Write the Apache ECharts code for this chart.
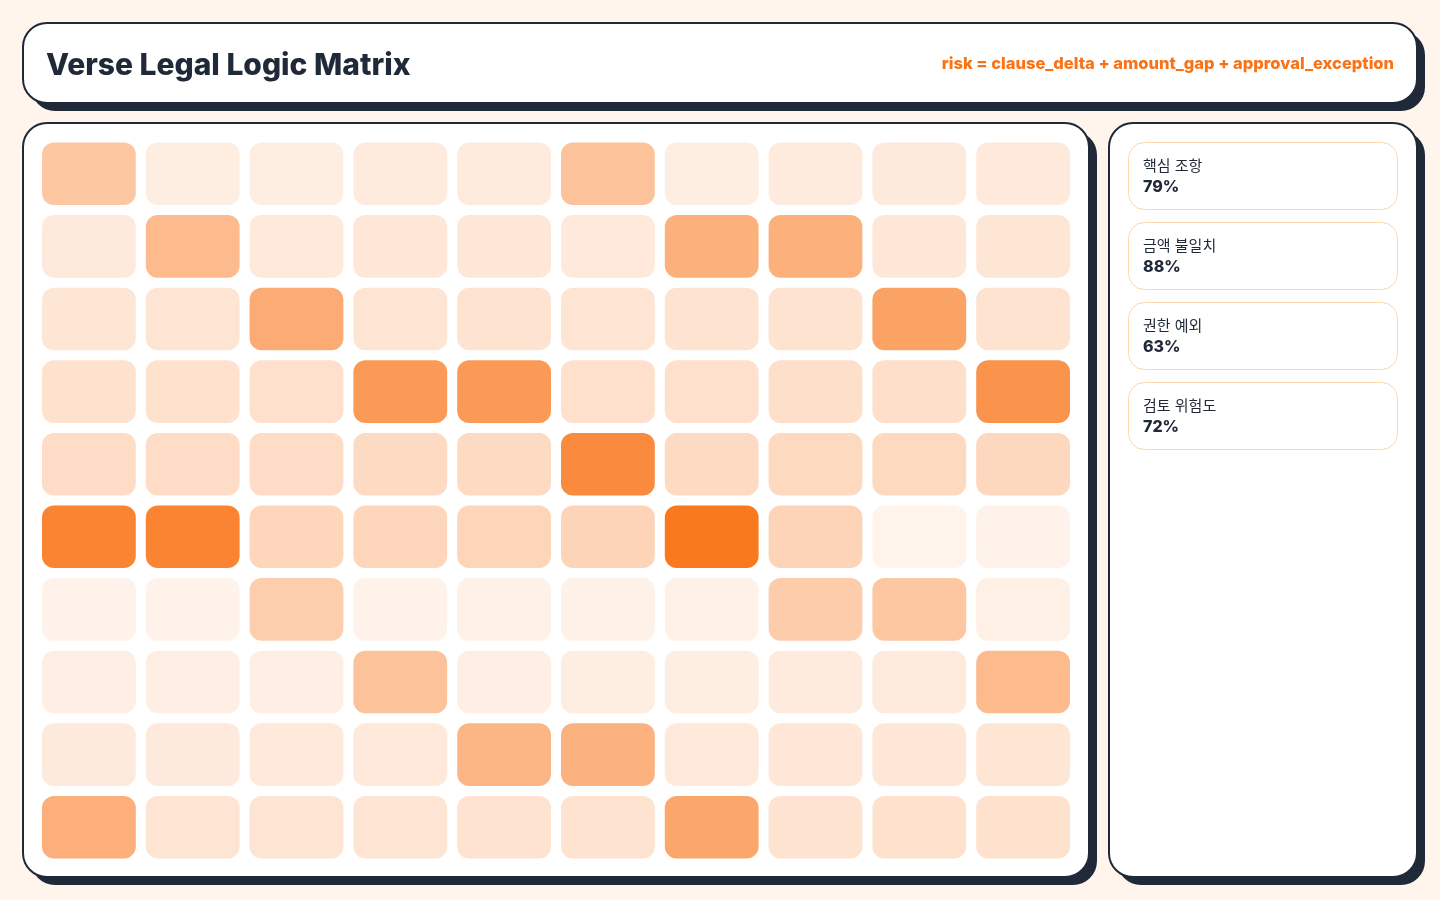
<!DOCTYPE html>
<html>
<head>
<meta charset="utf-8">
<title>Verse Legal Logic Matrix</title>
<script src="https://cdn.jsdelivr.net/npm/echarts@6/dist/echarts.min.js"></script>
<style>
    html, body { margin: 0; padding: 0; background: #fff5ec; }
    #chart { width: 1440px; height: 900px; }
</style>
</head>
<body>
<div id="chart"></div>
<script>
// 行列标签
var colKeys = ['c1', 'c2', 'c3', 'c4', 'c5', 'c6', 'c7', 'c8', 'c9', 'c10'];
var rowKeys = ['r1', 'r2', 'r3', 'r4', 'r5', 'r6', 'r7', 'r8', 'r9', 'r10'];

// 风险值 (0-100)，每行一组
var riskRow1 = [40, 13, 13, 14, 14, 43, 13, 14, 15, 16];
var riskRow2 = [15, 49, 16, 17, 17, 16, 56, 56, 17, 18];
var riskRow3 = [18, 19, 60, 19, 20, 19, 20, 20, 66, 20];
var riskRow4 = [21, 21, 22, 72, 72, 22, 22, 23, 23, 77];
var riskRow5 = [25, 25, 25, 26, 26, 83, 26, 27, 27, 28];
var riskRow6 = [88, 88, 29, 29, 30, 31, 96, 31, 8, 9];
var riskRow7 = [9, 9, 35, 9, 10, 10, 10, 36, 40, 11];
var riskRow8 = [12, 12, 12, 43, 12, 13, 13, 14, 14, 49];
var riskRow9 = [15, 15, 16, 16, 53, 55, 16, 17, 17, 18];
var riskRow10 = [57, 19, 19, 19, 20, 20, 63, 20, 21, 21];
var riskRows = [riskRow1, riskRow2, riskRow3, riskRow4, riskRow5,
    riskRow6, riskRow7, riskRow8, riskRow9, riskRow10];

// 右侧指标
var metricLabels = ['핵심 조항', '금액 불일치', '권한 예외', '검토 위험도'];
var metricValues = [79, 88, 63, 72];

var titleText = 'Verse Legal Logic Matrix';
var formulaText = 'risk = clause_delta + amount_gap + approval_exception';

var INK = '#1f2937';
var ORANGE = '#f97316';
var FONT = 'Inter, "Noto Sans CJK KR", sans-serif';

// 卡片 + 阴影
function card(x, y, w, h, r) {
    return [
        { type: 'rect', z: 1, shape: { x: x + 8, y: y + 8, width: w, height: h, r: r }, style: { fill: INK } },
        { type: 'rect', z: 2, shape: { x: x, y: y, width: w, height: h, r: r }, style: { fill: '#ffffff', stroke: INK, lineWidth: 2 } }
    ];
}

function buildGraphic() {
    var g = [];
    g = g.concat(card(23, 23, 1394, 80, 24));
    g = g.concat(card(23, 123, 1066, 754, 24));
    g = g.concat(card(1109, 123, 308, 754, 24));
    g.push({
        type: 'text', z: 3, x: 46, y: 66,
        style: { text: titleText, fill: INK, font: '800 30px ' + FONT, verticalAlign: 'middle' }
    });
    g.push({
        type: 'text', z: 3, x: 1394, y: 64,
        style: { text: formulaText, fill: ORANGE, font: '800 16.5px ' + FONT, align: 'right', verticalAlign: 'middle' }
    });
    for (var i = 0; i < metricLabels.length; i++) {
        var y = 142 + i * 80;
        g.push({
            type: 'rect', z: 3,
            shape: { x: 1128.5, y: y + 0.5, width: 269, height: 67, r: 16 },
            style: { fill: '#ffffff', stroke: '#fed7aa', lineWidth: 1 }
        });
        g.push({
            type: 'text', z: 4, x: 1143, y: y + 24,
            style: { text: metricLabels[i], fill: INK, font: '400 15px ' + FONT, verticalAlign: 'middle' }
        });
        g.push({
            type: 'text', z: 4, x: 1143, y: y + 45,
            style: { text: metricValues[i] + '%', fill: INK, font: '800 16px ' + FONT, verticalAlign: 'middle' }
        });
    }
    return g;
}

function buildData() {
    var data = [];
    for (var r = 0; r < riskRows.length; r++) {
        for (var c = 0; c < riskRows[r].length; c++) {
            data.push([c, r, riskRows[r][c]]);
        }
    }
    return data;
}

var chart = echarts.init(document.getElementById('chart'));
var option = {
    backgroundColor: '#fff5ec',
    animation: false,
    graphic: buildGraphic(),
    grid: { left: 37, top: 137.5, width: 1038, height: 726 },
    xAxis: { type: 'category', data: colKeys, show: false },
    yAxis: { type: 'category', data: rowKeys, inverse: true, show: false },
    visualMap: {
        show: false, min: 0, max: 100, dimension: 2,
        inRange: { color: ['#ffffff', ORANGE] }
    },
    series: [{
        type: 'custom',
        z: 10,
        data: buildData(),
        renderItem: function (params, api) {
            var center = api.coord([api.value(0), api.value(1)]);
            var size = api.size([1, 1]);
            var w = size[0] - 10;
            var h = size[1] - 10;
            return {
                type: 'rect',
                shape: { x: center[0] - w / 2, y: center[1] - h / 2, width: w, height: h, r: 12 },
                style: { fill: api.visual('color') }
            };
        }
    }]
};
chart.setOption(option);
</script>
</body>
</html>
